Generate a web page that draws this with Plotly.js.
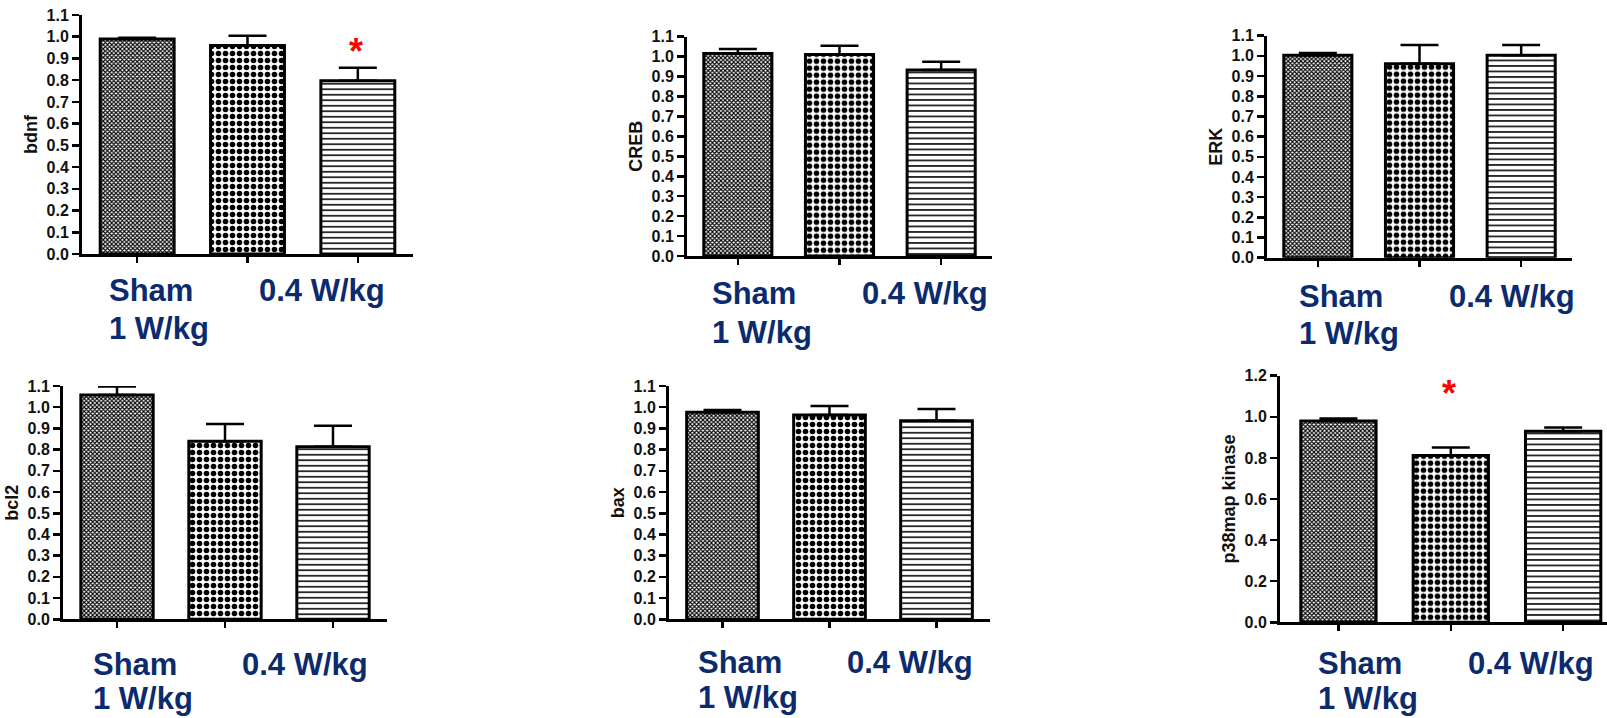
<!DOCTYPE html>
<html>
<head>
<meta charset="utf-8">
<script src="https://cdn.plot.ly/plotly-3.0.1.min.js"></script>
<style>html,body{margin:0;padding:0;background:#fff;}#chart{width:1607px;height:718px;}</style>
</head>
<body>
<div id="chart"></div>
<script>
// ---- data ----
const categories = ['Sham', '1 W/kg', '0.4 W/kg'];
const panelNames = ['bdnf', 'CREB', 'ERK', 'bcl2', 'bax', 'p38map kinase'];
const bdnfMean = [0.99, 0.96, 0.797];
const bdnfErr  = [0.005, 0.045, 0.06];
const crebMean = [1.016, 1.011, 0.933];
const crebErr  = [0.022, 0.044, 0.041];
const erkMean  = [1.003, 0.961, 1.003];
const erkErr   = [0.011, 0.093, 0.051];
const bcl2Mean = [1.058, 0.839, 0.814];
const bcl2Err  = [0.04, 0.082, 0.098];
const baxMean  = [0.976, 0.963, 0.936];
const baxErr   = [0.011, 0.043, 0.055];
const p38Mean  = [0.979, 0.812, 0.930];
const p38Err   = [0.013, 0.039, 0.018];
const yTop     = [1.1, 1.1, 1.1, 1.1, 1.1, 1.2];
const yStep    = [0.1, 0.1, 0.1, 0.1, 0.1, 0.2];
const starPanels = [0, 5];          // panels with a significance asterisk
const starCategory = [2, 1];        // bar index of asterisk
const starLevel = [0.975, 1.155];   // y value of asterisk
const labelLine1 = ['Sham', '0.4 W/kg'];
const labelLine2 = '1 W/kg';

const means = [bdnfMean, crebMean, erkMean, bcl2Mean, baxMean, p38Mean];
const errs  = [bdnfErr, crebErr, erkErr, bcl2Err, baxErr, p38Err];

// ---- layout geometry (pixels) ----
const W = 1607, H = 718;
const boxes = [ // [xLeft, xRight, yBottom, yTop] in px
  [82, 413, 254, 15],
  [687, 992, 256, 36.7],
  [1267, 1572, 257.7, 35.7],
  [63, 387, 619.3, 386],
  [669, 990, 619.3, 386],
  [1280, 1607, 622.3, 375.7]
];
const xRanges = [[-0.5,2.5],[-0.5,2.5],[-0.5,2.5],[-0.5,2.5],[-0.5,2.5],[-0.52,2.39]];
const titleStandoff = [5, 5, 5, 5, 5, 5];
const labelPos = [ // [xStartSham, yLine1, xStart04, yLine2]
  [107, 290, 257, 328],
  [710, 293, 860, 332],
  [1297, 296, 1447, 333],
  [91, 664, 240, 698],
  [696, 662, 845, 697],
  [1316, 663, 1466, 698]
];

const FAM = 'Arial, "Liberation Sans", sans-serif';
const traces = [];
const layout = {
  width: W, height: H,
  margin: {l:0, r:0, t:0, b:0},
  paper_bgcolor: '#ffffff', plot_bgcolor: '#ffffff',
  showlegend: false,
  bargap: 0.33,
  annotations: [],
  font: {family: FAM, color: '#111'}
};

const navy = '#0c2b6e';
for (let i = 0; i < 6; i++) {
  const s = i === 0 ? '' : String(i + 1);
  traces.push({
    type: 'bar',
    x: categories, y: means[i],
    xaxis: 'x' + s, yaxis: 'y' + s,
    marker: {
      color: '#ffffff',
      line: {color: '#000', width: 3},
      pattern: {
        shape: ['x', '.', '-'],
        size: [3, 7, 5.5],
        solidity: [0.6, 0.5, 0.28],
        fgcolor: '#000', bgcolor: '#fff', fillmode: 'replace'
      }
    },
    error_y: {
      type: 'data', symmetric: false,
      array: errs[i], arrayminus: [0, 0, 0],
      color: '#000', thickness: 2.5, width: 19
    },
    hoverinfo: 'skip'
  });
  const b = boxes[i];
  layout['xaxis' + s] = {
    domain: [b[0] / W, b[1] / W],
    anchor: 'y' + s,
    type: 'category',
    range: xRanges[i],
    showline: true, linecolor: '#000', linewidth: 3,
    ticks: 'outside', ticklen: 6, tickwidth: 2.5, tickcolor: '#000',
    showticklabels: false, showgrid: false, zeroline: false, fixedrange: true
  };
  layout['yaxis' + s] = {
    domain: [1 - b[2] / H, 1 - b[3] / H],
    anchor: 'x' + s,
    range: [0, yTop[i]],
    dtick: yStep[i], tick0: 0, tickformat: '.1f',
    showline: true, linecolor: '#000', linewidth: 3,
    ticks: 'outside', ticklen: 7, tickwidth: 2.5, tickcolor: '#000',
    tickfont: {size: 16, color: '#111', family: FAM, weight: 'bold'},
    title: {text: panelNames[i], standoff: titleStandoff[i],
            font: {size: 18, color: '#111', family: FAM, weight: 'bold'}},
    showgrid: false, zeroline: false, fixedrange: true
  };
  const lp = labelPos[i];
  const fnt = {size: 31, color: navy, family: FAM, weight: 'bold'};
  layout.annotations.push(
    {xref: 'paper', yref: 'paper', x: lp[0] / W, y: 1 - lp[1] / H, xanchor: 'left', yanchor: 'middle', text: labelLine1[0], showarrow: false, font: fnt},
    {xref: 'paper', yref: 'paper', x: lp[2] / W, y: 1 - lp[1] / H, xanchor: 'left', yanchor: 'middle', text: labelLine1[1], showarrow: false, font: fnt},
    {xref: 'paper', yref: 'paper', x: lp[0] / W, y: 1 - lp[3] / H, xanchor: 'left', yanchor: 'middle', text: labelLine2, showarrow: false, font: fnt}
  );
}
starPanels.forEach((p, k) => {
  const s = p === 0 ? '' : String(p + 1);
  layout.annotations.push({
    xref: 'x' + s, yref: 'y' + s,
    x: categories[starCategory[k]], y: starLevel[k],
    text: '*', showarrow: false, yshift: -9, xshift: -2,
    font: {size: 36, color: '#ff0000', family: FAM, weight: 'bold'}
  });
});

Plotly.newPlot('chart', traces, layout, {displayModeBar: false, staticPlot: true});
</script>
</body>
</html>
